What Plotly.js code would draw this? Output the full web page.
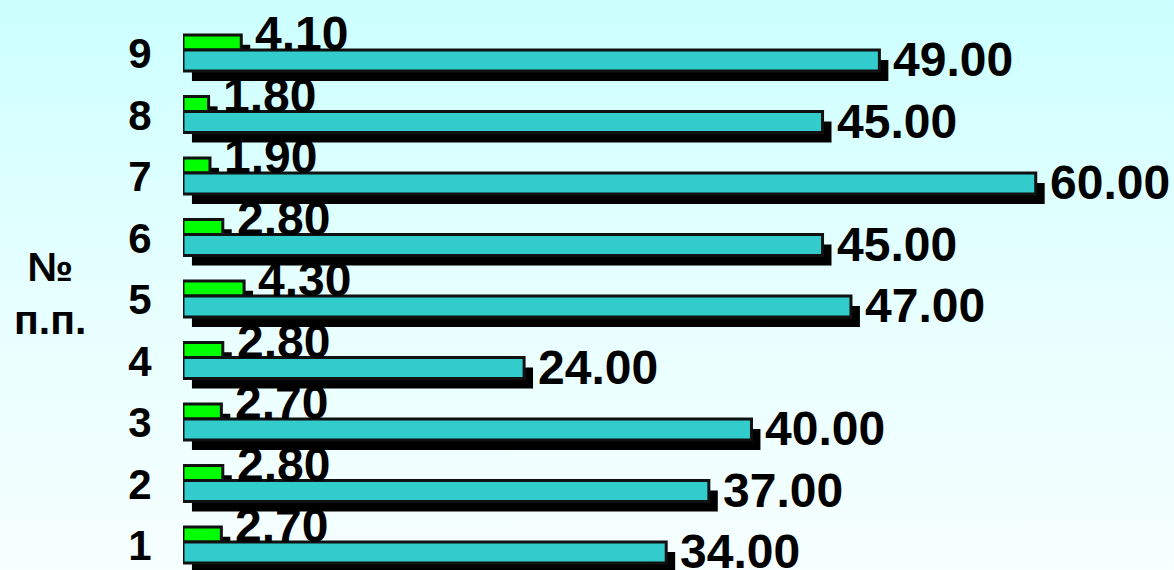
<!DOCTYPE html>
<html>
<head>
<meta charset="utf-8">
<script src="https://cdn.plot.ly/plotly-3.0.1.min.js"></script>
<style>
  html, body { margin: 0; padding: 0; }
  body { width: 1174px; height: 570px; background: linear-gradient(to bottom, #ccffff 0%, #e6ffff 50%, #f7ffff 100%); }
  #chart { width: 1174px; height: 570px; }
</style>
</head>
<body>
<div id="chart"></div>
<script>
// Data
const categories = [1, 2, 3, 4, 5, 6, 7, 8, 9];
const tickLabels = ['1', '2', '3', '4', '5', '6', '7', '8', '9'];
const greenValues = [2.7, 2.8, 2.7, 2.8, 4.3, 2.8, 1.9, 1.8, 4.1];
const tealValues = [34, 37, 40, 24, 47, 45, 60, 45, 49];
const axisTitle = '№<br>п.п.';

// Style / geometry
const shadowShiftX = 0.63;    // in x units (~9px)
const shadowShiftY = 0.16;    // in y units (~10px)
const greenOffset = 0.057, greenWidth = 0.244;
const tealOffset = -0.285, tealWidth = 0.341;
const outline = {color: '#111111', width: 3};
const fontFam = 'Arial, "Liberation Sans", sans-serif';

function bar(vals, offset, width, color, line, base) {
  const t = {
    type: 'bar', orientation: 'h',
    y: categories, x: vals,
    offset: categories.map(() => offset),
    width: categories.map(() => width),
    marker: {color: color, line: line || {width: 0}},
    hoverinfo: 'none', showlegend: false
  };
  if (base !== undefined) t.base = categories.map(() => base);
  return t;
}

const traces = [
  bar(greenValues, greenOffset - shadowShiftY, greenWidth, '#000000', null, shadowShiftX),
  bar(tealValues, tealOffset - shadowShiftY, tealWidth, '#000000', null, shadowShiftX),
  bar(greenValues, greenOffset, greenWidth, '#00ff00', outline),
  bar(tealValues, tealOffset, tealWidth, '#33cccc', outline)
];

const labelFont = {family: fontFam, size: 48, color: '#000000'};
const annotations = [];
categories.forEach((c, i) => {
  annotations.push({
    x: greenValues[i], y: c, xref: 'x', yref: 'y',
    text: '<b>' + greenValues[i].toFixed(2) + '</b>',
    showarrow: false, xanchor: 'left', yanchor: 'middle',
    xshift: 12, yshift: 20, font: labelFont
  });
  annotations.push({
    x: tealValues[i], y: c, xref: 'x', yref: 'y',
    text: '<b>' + tealValues[i].toFixed(2) + '</b>',
    showarrow: false, xanchor: 'left', yanchor: 'middle',
    xshift: 12, yshift: -6, font: labelFont
  });
});
annotations.push({
  xref: 'paper', yref: 'paper', x: -0.142, y: 0.485,
  text: '<b>' + axisTitle + '</b>', showarrow: false,
  xanchor: 'center', yanchor: 'middle', align: 'center',
  font: {family: fontFam, size: 41, color: '#000000'}
});

const layout = {
  width: 1174, height: 570,
  margin: {l: 183, r: 53, t: 0, b: 0, pad: 0},
  paper_bgcolor: 'rgba(0,0,0,0)',
  plot_bgcolor: 'rgba(0,0,0,0)',
  barmode: 'overlay',
  xaxis: {range: [0, 66], visible: false, showgrid: false, zeroline: false, fixedrange: true},
  yaxis: {
    range: [0.602, 9.870], tickmode: 'array', tickvals: categories, ticktext: tickLabels.map(t => '<b>' + t + '</b>'),
    showgrid: false, zeroline: false, showline: false,
    ticks: 'outside', ticklen: 22, tickcolor: 'rgba(0,0,0,0)',
    tickfont: {family: fontFam, size: 42, color: '#000000'},
    fixedrange: true
  },
  annotations: annotations,
  showlegend: false
};

Plotly.newPlot('chart', traces, layout, {displayModeBar: false, staticPlot: true});
</script>
</body>
</html>
